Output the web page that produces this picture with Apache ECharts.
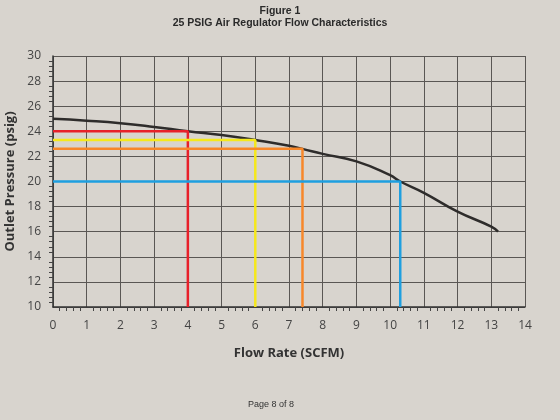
<!DOCTYPE html>
<html>
<head>
<meta charset="utf-8">
<script src="https://cdn.jsdelivr.net/npm/echarts@6/dist/echarts.min.js"></script>
<style>
  html, body { margin: 0; padding: 0; background: #d8d4ce; }
  #chart { width: 560px; height: 420px; }
</style>
</head>
<body>
<div id="chart"></div>
<script>
  // regulator curve
  var flow = [0, 1, 2, 3, 4, 5, 6, 7, 7.4, 8, 9, 10, 10.3, 11, 12, 13, 13.2]
  var pressure = [25, 24.85, 24.65, 24.35, 24.0, 23.7, 23.3, 22.85, 22.6, 22.2, 21.6, 20.5, 20.0, 19.1, 17.6, 16.4, 16.0]

  // highlighted read-outs: flow (SCFM) -> pressure (psig)
  var markFlow = [4, 6, 7.4, 10.3]
  var markPressure = [24, 23.3, 22.6, 20]
  var markColors = ['#e8202a', '#f5e81c', '#f7872a', '#1e9fe0']

  var chart = echarts.init(document.getElementById('chart'))

  var series = [{
    type: 'line',
    data: flow.map(function (f, i) { return [f, pressure[i]] }),
    smooth: true,
    showSymbol: false,
    lineStyle: { color: '#2e2c2b', width: 2.5 },
    z: 3
  }]

  markFlow.forEach(function (f, i) {
    series.push({
      type: 'line',
      data: [[0, markPressure[i]], [f, markPressure[i]], [f, 10]],
      showSymbol: false,
      lineStyle: { color: markColors[i], width: 2.5 },
      z: 4
    })
  })

  chart.setOption({
    backgroundColor: '#d8d4ce',
    animation: false,
    title: [
      {
        text: 'Figure 1',
        left: 'center',
        top: 1,
        textStyle: { fontFamily: 'Liberation Sans', fontSize: 10.5, fontWeight: 'bold', color: '#2a2a2a' }
      },
      {
        text: '25 PSIG Air Regulator Flow Characteristics',
        left: 'center',
        top: 13,
        textStyle: { fontFamily: 'Liberation Sans', fontSize: 10.5, fontWeight: 'bold', color: '#2a2a2a' }
      },
      {
        text: 'Page 8 of 8',
        left: 243,
        top: 395,
        textStyle: { fontFamily: 'Liberation Sans', fontSize: 9, fontWeight: 'normal', color: '#333' }
      }
    ],
    grid: {
      left: 53,
      right: 35,
      top: 56,
      bottom: 113,
      outerBoundsMode: 'none'
    },
    xAxis: {
      type: 'value',
      min: 0,
      max: 14,
      interval: 1,
      name: 'Flow Rate (SCFM)',
      nameLocation: 'middle',
      nameGap: 40,
      nameTextStyle: { fontFamily: 'Open Sans', fontSize: 13, fontWeight: 'bold', color: '#333' },
      axisLine: { lineStyle: { color: '#333', width: 1.5 } },
      axisTick: { show: false },
      minorTick: { show: true, splitNumber: 5, length: 4, lineStyle: { color: '#444' } },
      axisLabel: { fontFamily: 'Open Sans', fontSize: 12, color: '#444', margin: 13 },
      splitLine: { show: true, lineStyle: { color: '#5a5754', width: 1 } }
    },
    yAxis: {
      type: 'value',
      min: 10,
      max: 30,
      interval: 2,
      name: 'Outlet Pressure (psig)',
      nameLocation: 'middle',
      nameGap: 34,
      nameTextStyle: { fontFamily: 'Open Sans', fontSize: 13, fontWeight: 'bold', color: '#333' },
      axisLine: { show: true, lineStyle: { color: '#333', width: 1.5 } },
      axisTick: { show: false },
      minorTick: { show: true, splitNumber: 5, length: 4, lineStyle: { color: '#444' } },
      axisLabel: { fontFamily: 'Open Sans', fontSize: 12, color: '#444', margin: 12 },
      splitLine: { show: true, lineStyle: { color: '#5a5754', width: 1 } }
    },
    series: series
  })
</script>
</body>
</html>
